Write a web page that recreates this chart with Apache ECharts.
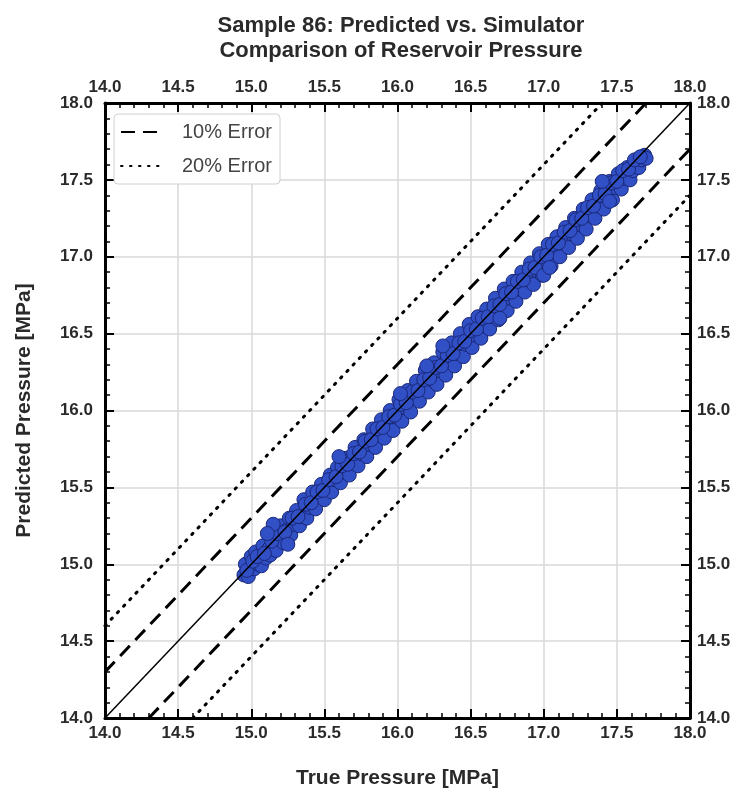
<!DOCTYPE html>
<html>
<head>
<meta charset="utf-8">
<script src="https://cdn.jsdelivr.net/npm/echarts@6/dist/echarts.min.js"></script>
<style>html,body{margin:0;padding:0;background:#fff;}#chart{width:738px;height:796px;}</style>
</head>
<body>
<div id="chart"></div>
<script>
const titleLines = ['Sample 86: Predicted vs. Simulator', 'Comparison of Reservoir Pressure'];
const xLabel = 'True Pressure [MPa]';
const yLabel = 'Predicted Pressure [MPa]';
const axisMin = 14.0, axisMax = 18.0, axisStep = 0.5;
const errorNames = ['10% Error', '20% Error'];
const errorOffsets = [0.3, 0.6];

const truePressure = [
 14.95,14.96,14.98,15.00,15.02,15.03,15.05,15.07,15.08,15.10,15.12,15.13,15.15,15.17,15.19,15.20,15.22,15.24,15.26,15.27,
 15.29,15.31,15.33,15.35,15.36,15.38,15.40,15.42,15.44,15.46,15.48,15.50,15.52,15.54,15.55,15.57,15.59,15.61,15.63,15.65,
 15.67,15.69,15.71,15.73,15.75,15.77,15.79,15.81,15.83,15.85,15.87,15.89,15.91,15.93,15.95,15.97,15.99,16.01,16.03,16.05,
 16.07,16.09,16.11,16.13,16.15,16.17,16.19,16.21,16.23,16.25,16.27,16.29,16.31,16.33,16.35,16.37,16.39,16.41,16.43,16.45,
 16.47,16.49,16.51,16.53,16.55,16.57,16.59,16.61,16.63,16.65,16.67,16.69,16.71,16.73,16.75,16.77,16.79,16.81,16.83,16.85,
 16.87,16.89,16.91,16.93,16.95,16.97,16.99,17.01,17.03,17.05,17.07,17.09,17.11,17.13,17.15,17.17,17.19,17.21,17.23,17.25,
 17.27,17.29,17.31,17.33,17.35,17.37,17.39,17.41,17.43,17.45,17.47,17.49,17.51,17.53,17.55,17.57,17.59,17.61,17.63,17.65,
 17.67,17.69,17.70,
 14.97,15.01,15.04,15.09,15.14,15.18,15.23,15.28,15.32,15.37,15.41,15.45,15.49,15.53,15.58,15.62,15.66,15.70,15.74,15.78,
 15.82,15.86,15.90,15.94,15.98,16.02,16.06,16.10,16.14,16.18,16.22,16.26,16.30,16.34,16.38,16.42,16.46,16.50,16.54,16.58,
 16.62,16.66,16.70,16.74,16.78,16.82,16.86,16.90,16.94,16.98,17.02,17.06,17.10,17.14,17.18,17.22,17.26,17.30,17.34,17.38,
 17.42,17.46,17.50,17.54,17.58,17.62,17.66,
 15.15,15.25,15.11,16.31,16.02,17.00,17.04,17.45,17.40,15.60,16.70,16.20
];
const predictedPressure = [
 14.93,15.00,14.92,15.05,14.97,15.08,15.00,14.99,15.12,15.04,15.10,15.06,15.18,15.09,15.16,15.25,15.14,15.22,15.30,15.19,
 15.26,15.35,15.25,15.31,15.42,15.30,15.37,15.47,15.36,15.44,15.52,15.42,15.49,15.58,15.47,15.55,15.63,15.53,15.60,15.69,
 15.58,15.66,15.76,15.64,15.72,15.81,15.70,15.78,15.88,15.76,15.84,15.94,15.82,15.90,16.00,15.87,15.96,16.07,15.93,16.02,
 16.13,15.99,16.08,16.19,16.06,16.14,16.26,16.12,16.20,16.31,16.17,16.26,16.38,16.23,16.32,16.44,16.29,16.37,16.50,16.35,
 16.43,16.56,16.41,16.49,16.61,16.47,16.55,16.66,16.53,16.61,16.73,16.59,16.67,16.79,16.65,16.73,16.84,16.71,16.79,16.90,
 16.77,16.85,16.96,16.82,16.91,17.02,16.88,16.97,17.08,16.94,17.03,17.13,17.00,17.09,17.19,17.06,17.15,17.25,17.12,17.21,
 17.31,17.18,17.27,17.37,17.25,17.33,17.43,17.31,17.39,17.49,17.37,17.45,17.54,17.44,17.51,17.58,17.50,17.56,17.62,17.58,
 17.63,17.66,17.64,
 14.96,15.02,15.05,15.07,15.15,15.20,15.21,15.30,15.31,15.39,15.40,15.47,15.48,15.55,15.57,15.64,15.65,15.72,15.73,15.80,
 15.81,15.88,15.89,15.96,15.97,16.04,16.05,16.12,16.13,16.20,16.21,16.28,16.29,16.36,16.37,16.44,16.45,16.52,16.53,16.60,
 16.61,16.68,16.69,16.76,16.77,16.84,16.85,16.92,16.93,17.00,17.01,17.08,17.09,17.16,17.17,17.24,17.25,17.32,17.33,17.40,
 17.41,17.48,17.49,17.56,17.57,17.63,17.65,
 15.26,15.13,15.20,16.42,16.11,16.88,16.93,17.36,17.49,15.70,16.60,16.29
];

const scatterData = truePressure.map((t, i) => [t, predictedPressure[i]]);

const fontFam = '"Liberation Sans", Arial, sans-serif';
const labelStyle = { fontFamily: fontFam, fontSize: 17, fontWeight: 'bold', color: '#2a2a2a', formatter: v => v.toFixed(1) };

function axisCommon(extra) {
  return Object.assign({
    type: 'value', min: axisMin, max: axisMax, interval: axisStep,
    axisLine: { show: true, onZero: false, lineStyle: { color: '#000', width: 3 } },
    axisTick: { show: true, inside: true, length: 9, lineStyle: { color: '#000', width: 2 } },
    minorTick: { show: true, splitNumber: 5, length: 5, lineStyle: { color: '#000', width: 1.5 } },
    splitLine: { show: false },
    axisLabel: Object.assign({ margin: 7 }, labelStyle)
  }, extra);
}

function errLine(name, off, dashType, sign) {
  const d = sign > 0
    ? [[axisMin, axisMin + off], [axisMax - off, axisMax]]
    : [[axisMin + off, axisMin], [axisMax, axisMax - off]];
  return {
    name: name, type: 'line', data: d, symbol: 'none', silent: true, z: 4,
    itemStyle: { color: '#000' },
    lineStyle: { color: '#000', width: 3, type: dashType, cap: dashType[0] < 5 ? 'round' : 'butt' }
  };
}

const series = [
  {
    type: 'scatter', data: scatterData, symbolSize: 14, z: 2,
    itemStyle: { color: '#3150c6', borderColor: '#1a2878', borderWidth: 1, opacity: 1 }
  },
  { type: 'line', data: [[axisMin, axisMin], [axisMax, axisMax]], symbol: 'none', silent: true, z: 5,
    lineStyle: { color: '#000', width: 1.5 } },
  errLine(errorNames[0], errorOffsets[0], [14, 8], 1),
  errLine(errorNames[0], errorOffsets[0], [14, 8], -1),
  errLine(errorNames[1], errorOffsets[1], [1.5, 7.5], 1),
  errLine(errorNames[1], errorOffsets[1], [1.5, 7.5], -1)
];

const chart = echarts.init(document.getElementById('chart'));
chart.setOption({
  animation: false,
  backgroundColor: '#fff',
  title: {
    text: titleLines.join('\n'), left: 396, top: 8, textAlign: 'center',
    textStyle: { fontFamily: fontFam, fontSize: 22, fontWeight: 'bold', color: '#2a2a2a', lineHeight: 25 }
  },
  grid: { left: 105, right: 48, top: 103, bottom: 78, containLabel: false },
  legend: {
    data: errorNames, orient: 'vertical', left: 114, top: 114,
    backgroundColor: '#fff', borderColor: '#d0d0d0', borderWidth: 1, borderRadius: 4,
    padding: [8, 8, 8, 6], itemGap: 14, itemWidth: 44, itemHeight: 20,
    itemStyle: { opacity: 0 },
    textStyle: { fontFamily: fontFam, fontSize: 20, color: '#444', padding: [0, 0, 0, 12] }
  },
  xAxis: [
    axisCommon({ position: 'bottom', name: xLabel, nameLocation: 'middle', nameGap: 50,
      nameTextStyle: { fontFamily: fontFam, fontSize: 21, fontWeight: 'bold', color: '#2a2a2a' },
      splitLine: { show: true, lineStyle: { color: '#d8d8d8', width: 1.5 } } }),
    axisCommon({ position: 'top' })
  ],
  yAxis: [
    axisCommon({ position: 'left', name: yLabel, nameLocation: 'middle', nameGap: 70,
      nameTextStyle: { fontFamily: fontFam, fontSize: 21, fontWeight: 'bold', color: '#2a2a2a' },
      axisLabel: Object.assign({ margin: 12 }, labelStyle),
      splitLine: { show: true, lineStyle: { color: '#d8d8d8', width: 1.5 } } }),
    axisCommon({ position: 'right', axisLabel: Object.assign({ margin: 7 }, labelStyle) })
  ],
  series: series
});
</script>
</body>
</html>
